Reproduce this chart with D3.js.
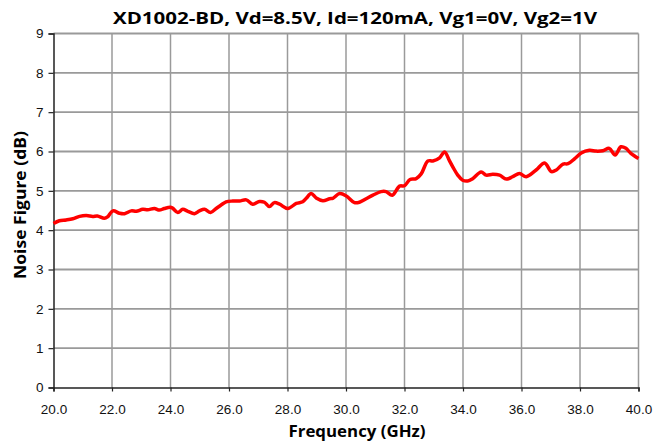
<!DOCTYPE html>
<html>
<head>
<meta charset="utf-8">
<script src="https://cdn.jsdelivr.net/npm/d3@7"></script>
<style>
  body { margin: 0; background: #fff; }
  svg { display: block; }
</style>
</head>
<body>
<script>
// frequency (GHz) and noise figure (dB)
var freq = [20.0, 20.2, 20.43, 20.66, 20.89, 21.12, 21.34, 21.5, 21.74, 21.85, 22.03, 22.26, 22.43, 22.66, 22.83, 23.05, 23.22, 23.45, 23.62, 23.79, 23.99, 24.07, 24.25, 24.42, 24.59, 24.82, 24.99, 25.16, 25.37, 25.56, 25.73, 25.9, 26.13, 26.36, 26.59, 26.81, 27.04, 27.21, 27.38, 27.55, 27.73, 28.01, 28.3, 28.52, 28.64, 28.81, 28.98, 29.21, 29.44, 29.55, 29.78, 30.01, 30.29, 30.46, 30.69, 30.92, 31.2, 31.37, 31.58, 31.83, 32.0, 32.19, 32.4, 32.57, 32.8, 32.97, 33.2, 33.37, 33.54, 33.65, 33.82, 33.99, 34.16, 34.33, 34.62, 34.79, 35.02, 35.25, 35.48, 35.7, 35.93, 36.16, 36.5, 36.79, 37.02, 37.19, 37.42, 37.59, 37.82, 38.04, 38.32, 38.55, 38.78, 39.0, 39.2, 39.4, 39.57, 39.74, 40.0];
var nf   = [4.17, 4.24, 4.26, 4.29, 4.35, 4.37, 4.35, 4.36, 4.30, 4.34, 4.49, 4.43, 4.42, 4.49, 4.48, 4.53, 4.52, 4.55, 4.51, 4.55, 4.58, 4.56, 4.45, 4.53, 4.48, 4.42, 4.49, 4.53, 4.45, 4.55, 4.64, 4.72, 4.74, 4.74, 4.77, 4.66, 4.73, 4.71, 4.60, 4.70, 4.66, 4.55, 4.68, 4.72, 4.81, 4.93, 4.82, 4.75, 4.80, 4.81, 4.93, 4.87, 4.70, 4.71, 4.80, 4.89, 4.98, 4.98, 4.89, 5.12, 5.13, 5.29, 5.31, 5.43, 5.76, 5.76, 5.84, 5.99, 5.76, 5.61, 5.40, 5.27, 5.25, 5.31, 5.48, 5.40, 5.42, 5.40, 5.30, 5.36, 5.44, 5.36, 5.53, 5.71, 5.49, 5.53, 5.68, 5.69, 5.82, 5.96, 6.03, 6.01, 6.02, 6.08, 5.91, 6.12, 6.08, 5.95, 5.82];
var xTicks = [20, 22, 24, 26, 28, 30, 32, 34, 36, 38, 40];
var yTicks = [0, 1, 2, 3, 4, 5, 6, 7, 8, 9];

var titleText = "XD1002-BD, Vd=8.5V, Id=120mA, Vg1=0V, Vg2=1V";
var xLabel = "Frequency (GHz)";
var yLabel = "Noise Figure (dB)";

var width = 661, height = 443;
var plotLeft = 53.5, plotRight = 638.5, plotTop = 33.5, plotBottom = 387.5;

var svg = d3.select("body").append("svg")
  .attr("width", width)
  .attr("height", height);

var x = d3.scaleLinear().domain([20, 40]).range([plotLeft, plotRight]);
var y = d3.scaleLinear().domain([0, 9]).range([plotBottom, plotTop]);

// grid
svg.append("g").selectAll("line").data(yTicks.slice(1)).enter().append("line")
  .attr("x1", plotLeft).attr("x2", plotRight)
  .attr("y1", function(d){ return y(d); })
  .attr("y2", function(d){ return y(d); })
  .attr("stroke", "#9a9a9a").attr("stroke-width", 1.8);

svg.append("g").selectAll("line").data(xTicks.slice(1)).enter().append("line")
  .attr("y1", plotTop).attr("y2", plotBottom)
  .attr("x1", function(d){ return x(d); })
  .attr("x2", function(d){ return x(d); })
  .attr("stroke", "#9a9a9a").attr("stroke-width", 1.5);

// axes
var xAxis = d3.axisBottom(x).tickValues(xTicks).tickSize(4).tickPadding(13)
  .tickFormat(d3.format(".1f"));
var yAxis = d3.axisLeft(y).tickValues(yTicks).tickSize(5).tickPadding(5)
  .tickFormat(d3.format("d"));

var gx = svg.append("g").attr("transform", "translate(0," + plotBottom + ")").call(xAxis);
var gy = svg.append("g").attr("transform", "translate(" + plotLeft + ",0)").call(yAxis);

[gx, gy].forEach(function(g){
  g.select(".domain").attr("stroke", "#222").attr("stroke-width", 1.5);
  g.selectAll(".tick line").attr("stroke", "#222").attr("stroke-width", 1.2);
  g.selectAll(".tick text")
    .attr("fill", "#111")
    .style("font-family", "'Liberation Sans', Arial, sans-serif")
    .style("font-size", "13.5px");
});

// data line
var line = d3.line()
  .x(function(d, i){ return x(freq[i]); })
  .y(function(d){ return y(d); })
  .curve(d3.curveCatmullRom);

svg.append("path")
  .datum(nf)
  .attr("d", line)
  .attr("fill", "none")
  .attr("stroke", "#ff0000")
  .attr("stroke-width", 3.5)
  .attr("stroke-linejoin", "round");

// titles
svg.append("text")
  .attr("x", 355).attr("y", 24)
  .attr("text-anchor", "middle")
  .style("font-family", "'Open Sans', sans-serif")
  .style("font-weight", "bold")
  .style("font-size", "16px")
  .attr("textLength", 484)
  .attr("lengthAdjust", "spacingAndGlyphs")
  .text(titleText);

svg.append("text")
  .attr("x", 357).attr("y", 437)
  .attr("text-anchor", "middle")
  .style("font-family", "'Open Sans', sans-serif")
  .style("font-weight", "bold")
  .style("font-size", "16px")
  .attr("textLength", 137)
  .attr("lengthAdjust", "spacingAndGlyphs")
  .text(xLabel);

svg.append("text")
  .attr("transform", "translate(26,205) rotate(-90)")
  .attr("text-anchor", "middle")
  .style("font-family", "'Open Sans', sans-serif")
  .style("font-weight", "bold")
  .style("font-size", "16px")
  .attr("textLength", 148)
  .attr("lengthAdjust", "spacingAndGlyphs")
  .text(yLabel);
</script>
</body>
</html>
